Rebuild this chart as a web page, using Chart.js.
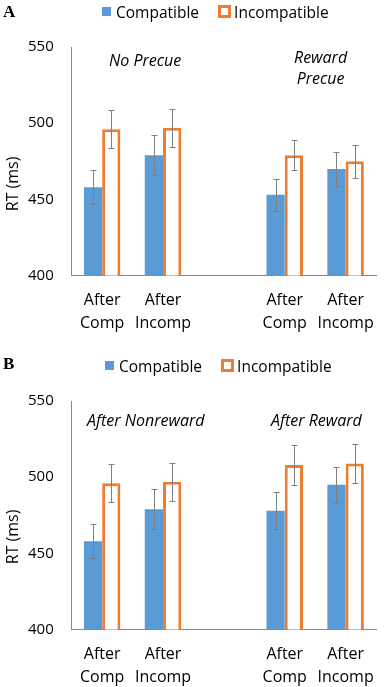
<!DOCTYPE html>
<html>
<head>
<meta charset="utf-8">
<script src="https://cdn.jsdelivr.net/npm/chart.js@4.4.1/dist/chart.umd.min.js"></script>
<style>
  body { margin: 0; background: #fff; width: 387px; height: 687px; position: relative; overflow: hidden; font-family: "Open Sans", sans-serif; color: #000; }
  .panel { position: absolute; left: 0; width: 387px; height: 359px; }
  .letter { position: absolute; left: 3px; font: bold 17px "Liberation Serif", serif; }
  .legend { position: absolute; font-size: 15.5px; line-height: 20px; white-space: nowrap; }
  .legend span { display: inline-block; vertical-align: middle; }
  .sq-blue { width: 9px; height: 9px; background: #5b9bd5; margin-right: 5px; }
  .sq-orange { width: 7px; height: 7px; border: 3px solid #ed7d31; background: #fff; margin-right: 3px; margin-left: 19px; }
  .note { position: absolute; font-style: italic; font-size: 16px; line-height: 21px; text-align: center; white-space: nowrap; }
  .ytitle { position: absolute; font-size: 16px; transform: translate(-50%, -50%) rotate(-90deg); white-space: nowrap; }
</style>
</head>
<body>
<canvas id="chartA" class="panel" style="top:0px" width="387" height="359"></canvas>
<canvas id="chartB" class="panel" style="top:354px" width="387" height="359"></canvas>

<div class="letter" style="top:2px">A</div>
<div class="legend" style="left:102px;top:0px"><span class="sq-blue"></span><span>Compatible</span><span class="sq-orange"></span><span>Incompatible</span></div>
<div class="note" style="left:109px;top:50px">No Precue</div>
<div class="note" style="left:294px;top:47px">Reward<br>Precue</div>
<div class="ytitle" style="left:12px;top:184px">RT (ms)</div>

<div class="letter" style="top:354px">B</div>
<div class="legend" style="left:105px;top:354px"><span class="sq-blue"></span><span>Compatible</span><span class="sq-orange"></span><span>Incompatible</span></div>
<div class="note" style="left:87px;top:410px">After Nonreward</div>
<div class="note" style="left:271px;top:410px">After Reward</div>
<div class="ytitle" style="left:12px;top:537px">RT (ms)</div>

<script>
// categories (blank slot separates the two condition groups)
const categories = [["After", "Comp"], ["After", "Incomp"], "", ["After", "Comp"], ["After", "Incomp"]];
const yTicks = [400, 450, 500, 550];

// Panel A: No Precue / Reward Precue
const compatA = [458, 479, null, 453, 470];
const compatErrA = [11, 13, null, 10.5, 11];
const incompA = [496, 497, null, 479, 475];
const incompErrA = [12.5, 12.5, null, 10, 11];

// Panel B: After Nonreward / After Reward
const compatB = [458, 479, null, 478, 495];
const compatErrB = [11, 13, null, 12, 12];
const incompB = [496, 497, null, 508, 509];
const incompErrB = [12.5, 12.5, null, 13, 13];

const BLUE = "#5b9bd5";
const ORANGE = "#ed7d31";
const AXIS = "#868686";

// draws the +/- error whiskers using the chart's own bar positions and y scale
const errorBars = {
  id: "errorBars",
  afterDatasetsDraw(chart) {
    const ctx = chart.ctx;
    const y = chart.scales.y;
    chart.data.datasets.forEach((ds, i) => {
      const meta = chart.getDatasetMeta(i);
      meta.data.forEach((bar, j) => {
        const v = ds.data[j];
        const e = ds.errors[j];
        if (v == null || e == null) return;
        const x = Math.round(bar.x) + 0.5;
        const top = Math.round(y.getPixelForValue(v + e)) + 0.5;
        const bot = Math.round(y.getPixelForValue(v - e)) + 0.5;
        ctx.save();
        ctx.strokeStyle = "#7f7f7f";
        ctx.lineWidth = 1;
        ctx.beginPath();
        ctx.moveTo(x, top); ctx.lineTo(x, bot);
        ctx.moveTo(x - 3, top); ctx.lineTo(x + 3, top);
        ctx.moveTo(x - 3, bot); ctx.lineTo(x + 3, bot);
        ctx.stroke();
        ctx.restore();
      });
    });
  }
};

function makePanel(id, compat, compatErr, incomp, incompErr) {
  const ctx = document.getElementById(id).getContext("2d");
  return new Chart(ctx, {
    type: "bar",
    data: {
      labels: categories,
      datasets: [
        {
          label: "Compatible",
          data: compat,
          errors: compatErr,
          backgroundColor: BLUE,
          borderWidth: 0
        },
        {
          label: "Incompatible",
          data: incomp,
          errors: incompErr,
          backgroundColor: "#ffffff",
          borderColor: ORANGE,
          borderWidth: 3
        }
      ]
    },
    options: {
      responsive: false,
      animation: false,
      devicePixelRatio: 1,
      categoryPercentage: 0.6,
      barPercentage: 1.0,
      layout: { padding: { left: 10, right: 3, top: 47, bottom: 11 } },
      plugins: { legend: { display: false }, tooltip: { enabled: false } },
      scales: {
        x: {
          grid: { display: false, drawTicks: false },
          border: { color: AXIS, width: 1 },
          ticks: {
            color: "#000",
            font: { family: "Open Sans", size: 16, lineHeight: 1.45 },
            padding: 13,
            maxRotation: 0,
            autoSkip: false
          }
        },
        y: {
          min: 400,
          max: 550,
          afterBuildTicks: scale => { scale.ticks = yTicks.map(v => ({ value: v })); },
          grid: { display: false, drawTicks: false },
          border: { color: AXIS, width: 1 },
          ticks: {
            color: "#000",
            font: { family: "Open Sans", size: 15 },
            padding: 18
          }
        }
      }
    },
    plugins: [errorBars]
  });
}

makePanel("chartA", compatA, compatErrA, incompA, incompErrA);
makePanel("chartB", compatB, compatErrB, incompB, incompErrB);
</script>
</body>
</html>
